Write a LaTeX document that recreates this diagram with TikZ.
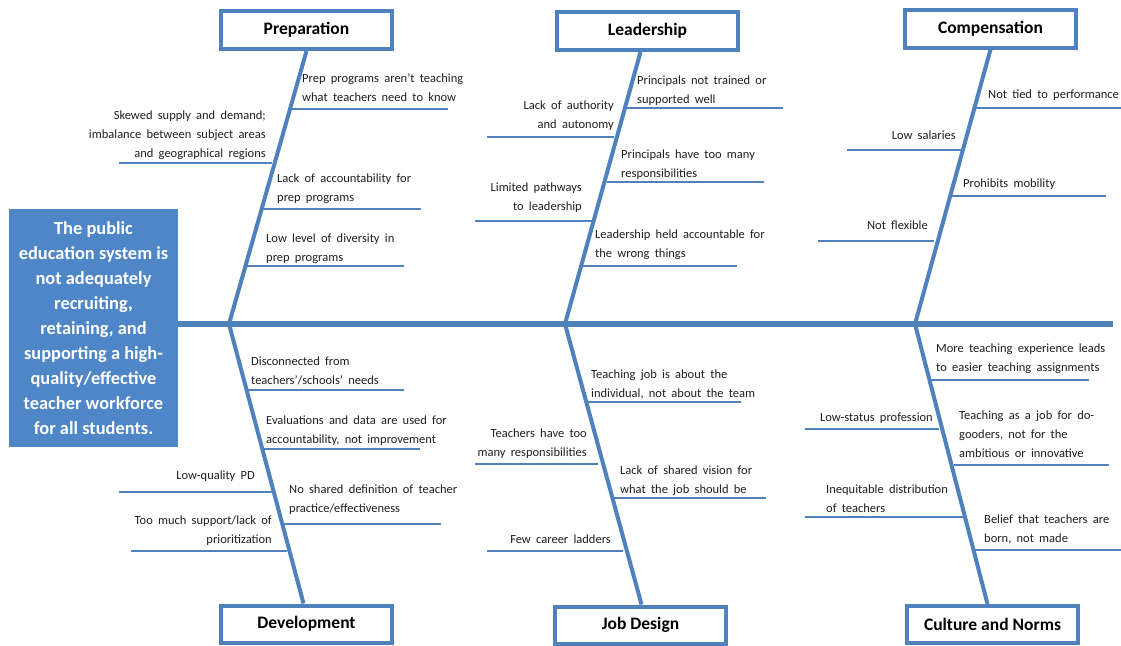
\documentclass[tikz,border=0pt]{standalone}
\usepackage{fontspec}
\setmainfont{Carlito}
\definecolor{boneblue}{RGB}{79,129,189}
\definecolor{goalblue}{RGB}{78,134,200}
\definecolor{txt}{RGB}{30,30,30}
\newcommand{\lblfont}{\fontsize{12.5}{19}\selectfont\spaceskip=0.42em plus 0.1em\relax}
\begin{document}
\begin{tikzpicture}[x=1pt,y=-1pt,
  spine/.style={draw=boneblue,line width=6pt},
  bone/.style={draw=boneblue,line width=4pt},
  sub/.style={draw=boneblue,line width=1.8pt},
  cat/.style={draw=boneblue,line width=4pt,fill=white,minimum width=171pt,minimum height=38pt,
    inner sep=0pt,font=\fontsize{17.5}{20}\selectfont\bfseries,text=black},
  goal/.style={fill=goalblue,minimum width=169pt,minimum height=238pt,inner sep=0pt,
    text=white,align=center,font=\fontsize{18.4}{25}\selectfont\bfseries},
  lbl/.style={inner sep=0pt,anchor=north west,align=left,text=txt,font=\lblfont,yshift=-2.5pt},
  lblr/.style={lbl,anchor=north east,align=right}]
\useasboundingbox (0,0) rectangle (1121,645);

% goal and spine
\node[goal] (goal) at (93.5,328) {The public\\education system is\\not adequately\\recruiting,\\retaining, and\\supporting a high-\\quality/effective\\teacher workforce\\for all students.};
\coordinate (spineEnd) at (1113,324);
\draw[spine] (goal.east |- spineEnd) -- (spineEnd);

% joints on spine
\coordinate (jA) at (229,324);
\coordinate (jB) at (565,324);
\coordinate (jC) at (915,324);

% category boxes
\node[cat,minimum width=171pt] (P) at (306.5,30) {Preparation};
\node[cat,minimum width=181pt] (L) at (647.5,31) {Leadership};
\node[cat] (C) at (990.5,28.5) {Compensation};
\node[cat,minimum height=37pt] (D) at (306.5,624) {Development};
\node[cat,minimum height=37pt] (J) at (640.5,625) {Job Design};
\node[cat,minimum height=37pt] (N) at (992.5,624.5) {Culture and Norms};

% bones
\draw[bone] (P.south) -- (jA);
\draw[bone] ([xshift=-7pt]L.south) -- (jB);
\draw[bone] (C.south) -- (jC);
\draw[bone] (jA) -- ([xshift=-3pt]D.north);
\draw[bone] (jB) -- ([xshift=1pt]J.north);
\draw[bone] (jC) -- ([xshift=-5pt]N.north);

% Preparation
\node[lbl] (pr1) at (302,71) {Prep programs aren’t teaching\\what teachers need to know};
\draw[sub] (290,109) -- (448,109);
\node[lblr] (pl1) at (266,108) {Skewed supply and demand;\\imbalance between subject areas\\and geographical regions};
\draw[sub] (119,163) -- (272,163);
\node[lbl] (pr2) at (277,171) {Lack of accountability for\\prep programs};
\draw[sub] (262,209) -- (421,209);
\node[lbl] (pr3) at (266,231) {Low level of diversity in\\prep programs};
\draw[sub] (247,266) -- (404,266);

% Leadership
\node[lbl] (lr1) at (637,73) {Principals not trained or\\supported well};
\draw[sub] (626,108) -- (783,108);
\node[lblr] (ll1) at (614,98) {Lack of authority\\and autonomy};
\draw[sub] (487,137) -- (614,137);
\node[lbl] (lr2) at (621,147) {Principals have too many\\responsibilities};
\draw[sub] (607,182) -- (764,182);
\node[lblr] (ll2) at (582,180) {Limited pathways\\to leadership};
\draw[sub] (475,221) -- (592,221);
\node[lbl] (lr3) at (595,227) {Leadership held accountable for\\the wrong things};
\draw[sub] (583,266) -- (737,266);

% Compensation
\node[lbl] (cr1) at (988,87) {Not tied to performance};
\draw[sub] (976,108) -- (1121,108);
\node[lblr] (cl1) at (956,128) {Low salaries};
\draw[sub] (847,150) -- (961,150);
\node[lbl] (cr2) at (963,176) {Prohibits mobility};
\draw[sub] (952,196) -- (1106,196);
\node[lblr] (cl2) at (928,218) {Not flexible};
\draw[sub] (818,241) -- (934,241);

% Development
\node[lbl] (dr1) at (251,354) {Disconnected from\\teachers’/schools’ needs};
\draw[sub] (248,390) -- (404,390);
\node[lbl] (dr2) at (266,413) {Evaluations and data are used for\\accountability, not improvement};
\draw[sub] (263,449) -- (420,449);
\node[lblr] (dl1) at (255,468) {Low-quality PD};
\draw[sub] (119,492) -- (272,492);
\node[lbl] (dr3) at (289,482) {No shared definition of teacher\\practice/effectiveness};
\draw[sub] (283,524) -- (441,524);
\node[lblr] (dl2) at (272,513) {Too much support/lack of\\prioritization};
\draw[sub] (131,551) -- (287,551);

% Job Design
\node[lbl] (jr1) at (591,367) {Teaching job is about the\\individual, not about the team};
\draw[sub] (587,402) -- (741,402);
\node[lblr] (jl1) at (587,426) {Teachers have too\\many responsibilities};
\draw[sub] (475,464) -- (598,464);
\node[lbl] (jr2) at (620,463) {Lack of shared vision for\\what the job should be};
\draw[sub] (612,498) -- (766,498);
\node[lblr] (jl2) at (611,532) {Few career ladders};
\draw[sub] (487,551) -- (623,551);

% Culture and Norms
\node[lbl] (nr1) at (936,341) {More teaching experience leads\\to easier teaching assignments};
\draw[sub] (930,380) -- (1089,380);
\node[lblr] (nl1) at (933,410) {Low-status profession};
\draw[sub] (805,429) -- (939,429);
\node[lbl] (nr2) at (959,408) {Teaching as a job for do-\\gooders, not for the\\ambitious or innovative};
\draw[sub] (954,465) -- (1109,465);
\node[lbl] (nl2) at (826,482) {Inequitable distribution\\of teachers};
\draw[sub] (805,517) -- (963,517);
\node[lbl] (nr3) at (984,512) {Belief that teachers are\\born, not made};
\draw[sub] (975,550) -- (1121,550);
\end{tikzpicture}
\end{document}
